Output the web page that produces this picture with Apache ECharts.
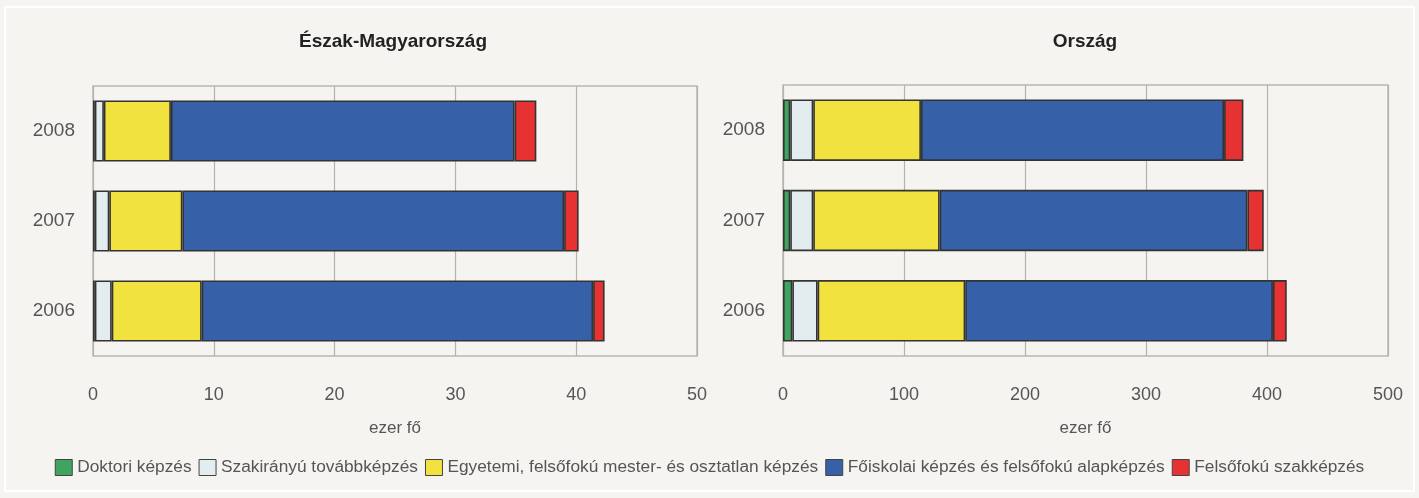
<!DOCTYPE html>
<html>
<head>
<meta charset="utf-8">
<script src="https://cdn.jsdelivr.net/npm/echarts@6/dist/echarts.min.js"></script>
<style>
  html, body { margin: 0; padding: 0; background: #f6f4f1; }
  #container { width: 1419px; height: 498px; }
</style>
</head>
<body>
<div id="container"></div>
<script>
var dom = document.getElementById('container');
var myChart = echarts.init(dom, null, {
    renderer: 'canvas',
    useDirtyRect: false
});

// évek (alulról felfelé)
var years = ['2006', '2007', '2008'];
var seriesNames = ['Doktori képzés', 'Szakirányú továbbképzés', 'Egyetemi, felsőfokú mester- és osztatlan képzés',
    'Főiskolai képzés és felsőfokú alapképzés', 'Felsőfokú szakképzés'];
var colors = ['#3fa45f', '#e3ecef', '#f2e23f', '#3661a8', '#e63232'];

// Észak-Magyarország, ezer fő
var emDoktori = [0.15, 0.15, 0.15];
var emSzakiranyu = [1.4, 1.2, 0.75];
var emEgyetemi = [7.45, 6.05, 5.55];
var emFoiskolai = [32.4, 31.6, 28.45];
var emSzakkepzes = [0.95, 1.2, 1.8];

// Ország, ezer fő
var orDoktori = [7.7, 6, 6];
var orSzakiranyu = [20.9, 19, 19];
var orEgyetemi = [122, 104.5, 89];
var orFoiskolai = [254.3, 254.3, 250.5];
var orSzakkepzes = [11.4, 13.5, 16];

var font = "'Liberation Sans', Arial, sans-serif";

function makeSeries(data, axisIdx, stackName) {
    return data.map(function (vals, i) {
        return {
            name: seriesNames[i],
            type: 'bar',
            stack: stackName,
            xAxisIndex: axisIdx,
            yAxisIndex: axisIdx,
            barCategoryGap: '32%',
            data: vals,
            itemStyle: { color: colors[i], borderColor: '#333', borderWidth: 1.6 },
            emphasis: { disabled: true }
        };
    });
}

function xAxisFor(gridIdx, max, interval) {
    return {
        type: 'value',
        gridIndex: gridIdx,
        min: 0,
        max: max,
        interval: interval,
        name: 'ezer fő',
        nameLocation: 'middle',
        nameGap: 64,
        nameTextStyle: { color: '#555', fontSize: 17, fontFamily: font },
        axisLine: { show: false },
        axisTick: { show: false },
        axisLabel: { color: '#555', fontSize: 18, fontFamily: font, margin: 30 },
        splitLine: { show: true, lineStyle: { color: '#b9b1ae', width: 1.2 } }
    };
}

function yAxisFor(gridIdx) {
    return {
        type: 'category',
        gridIndex: gridIdx,
        data: years,
        axisLine: { show: false },
        axisTick: { show: false },
        axisLabel: { color: '#555', fontSize: 19, fontFamily: font, margin: 18 },
        splitLine: { show: false }
    };
}

option = {
    backgroundColor: '#f6f4f1',
    animation: false,
    title: [
        {
            text: 'Észak-Magyarország', left: 388, top: 27, textAlign: 'center',
            textStyle: { fontSize: 19, fontWeight: 'bold', color: '#222', fontFamily: font }
        },
        {
            text: 'Ország', left: 1080, top: 27, textAlign: 'center',
            textStyle: { fontSize: 19, fontWeight: 'bold', color: '#222', fontFamily: font }
        }
    ],
    legend: {
        top: 454,
        left: 'center',
        itemWidth: 17,
        itemHeight: 16,
        itemGap: 7,
        icon: 'rect',
        selectedMode: false,
        itemStyle: { borderColor: '#444', borderWidth: 1 },
        textStyle: { color: '#555', fontSize: 17.3, fontFamily: font },
        data: seriesNames
    },
    grid: [
        { left: 93, top: 86, width: 604, height: 270, show: true, borderColor: '#bdb5b3', borderWidth: 1.5, backgroundColor: 'transparent' },
        { left: 783, top: 85, width: 605, height: 271, show: true, borderColor: '#bdb5b3', borderWidth: 1.5, backgroundColor: 'transparent' }
    ],
    xAxis: [xAxisFor(0, 50, 10), xAxisFor(1, 500, 100)],
    yAxis: [yAxisFor(0), yAxisFor(1)],
    graphic: [
        {
            type: 'rect',
            shape: { x: 5, y: 7, width: 1409, height: 484 },
            style: { fill: 'none', stroke: '#ffffff', lineWidth: 2 },
            silent: true
        }
    ],
    series: makeSeries([emDoktori, emSzakiranyu, emEgyetemi, emFoiskolai, emSzakkepzes], 0, 'em')
        .concat(makeSeries([orDoktori, orSzakiranyu, orEgyetemi, orFoiskolai, orSzakkepzes], 1, 'or'))
};

myChart.setOption(option);
</script>
</body>
</html>
